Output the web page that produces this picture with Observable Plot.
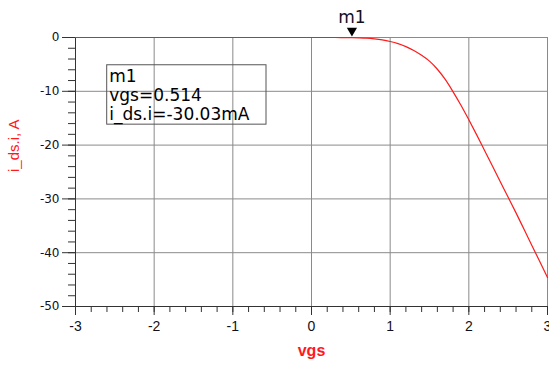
<!DOCTYPE html>
<html>
<head>
<meta charset="utf-8">
<script src="https://cdn.jsdelivr.net/npm/d3@7"></script>
<script src="https://cdn.jsdelivr.net/npm/@observablehq/plot@0.6"></script>
<style>
  html, body { margin: 0; padding: 0; background: #fff; }
</style>
</head>
<body>
<div id="chart"></div>
<script>
// Drain current sweep: i_ds.i (A) versus gate-source voltage vgs (V)
const vgs = [-3, -2, -1, 0, 0.3, 0.514, 0.6, 0.7, 0.8, 0.9, 1.0, 1.1, 1.2, 1.3, 1.4, 1.5,
             1.6, 1.7, 1.8, 1.9, 2.0, 2.1, 2.2, 2.3, 2.4, 2.5, 2.6, 2.7, 2.8, 2.9, 3.0];
const ids = [0, 0, 0, 0, -0.003, -0.03003, -0.06, -0.12, -0.25, -0.45, -0.75, -1.15, -1.7, -2.4, -3.3, -4.4,
             -5.9, -7.8, -10.1, -12.6, -15.3, -18.1, -21.0, -23.9, -26.8, -29.7, -32.6, -35.6, -38.6, -41.6, -44.6];

// Marker m1 readout
const markerName = "m1";
const markerVgs = 0.514;
const markerIds = -0.03003;

// Axis ticks
const xMajor = [-3, -2, -1, 0, 1, 2, 3];
const xMinor = d3.range(-3, 3.0001, 0.2).map(v => +v.toFixed(1));
const yMajor = [0, -10, -20, -30, -40, -50];
const yMinor = d3.range(0, -50.0001, -2);

const curve = vgs.map((v, i) => ({vgs: v, ids: ids[i]}));
const marker = [{vgs: markerVgs, ids: markerIds}];
const readout = `${markerName}\nvgs=${markerVgs}\ni_ds.i=${(markerIds * 1000).toFixed(2)}mA`;

const gridColor = "#8a8a8a";
const axisColor = "#333";
const textColor = "#101020";

const chart = Plot.plot({
  width: 549,
  height: 366,
  marginLeft: 75,
  marginRight: 2,
  marginTop: 37,
  marginBottom: 60,
  style: {fontFamily: "DejaVu Sans, sans-serif", background: "#fff", overflow: "visible"},
  x: {domain: [-3, 3]},
  y: {domain: [-50, 0]},
  marks: [
    Plot.gridX(xMajor, {stroke: gridColor, strokeOpacity: 1}),
    Plot.gridY(yMajor, {stroke: gridColor, strokeOpacity: 1}),
    // readout box
    Plot.rect([{x1: -2.597, x2: -0.572, y1: -5.16, y2: -16.2}], {
      x1: "x1", x2: "x2", y1: "y1", y2: "y2", fill: "none", stroke: "#555", strokeWidth: 1
    }),
    Plot.text([readout], {
      x: -2.597, y: -10.68, text: d => d, textAnchor: "start", lineAnchor: "middle",
      dx: 2, dy: 0, fontSize: 17, lineHeight: 1.1, fill: "#000"
    }),
    // y axis: major and minor ticks
    Plot.axisY(yMinor, {tickSize: 7, text: null, stroke: axisColor, label: null}),
    Plot.axisY(yMajor, {
      tickSize: 13, tickPadding: 3, tickFormat: d => String(d), stroke: axisColor,
      fill: textColor, fontSize: 12, label: null
    }),
    // x axis: major and minor ticks
    Plot.axisX(xMinor, {tickSize: 6, text: null, stroke: axisColor, label: null}),
    Plot.axisX(xMajor, {
      tickSize: 9, tickPadding: 6, tickFormat: d => String(d), stroke: axisColor,
      fill: textColor, fontSize: 14, fontFamily: "Liberation Sans, Arial, sans-serif", label: null
    }),
    Plot.ruleX([-3], {stroke: axisColor}),
    Plot.ruleY([-50], {stroke: axisColor}),
    // drain current
    Plot.line(curve, {x: "vgs", y: "ids", stroke: "#ff1a1a", strokeWidth: 1.2, curve: "monotone-x"}),
    // marker m1
    Plot.dot(marker, {x: "vgs", y: "ids", symbol: "triangle", rotate: 180, r: 3.8, fill: "#000", stroke: "none", dy: -7}),
    Plot.text(marker, {x: "vgs", y: "ids", text: () => markerName, dy: -20, fontSize: 17, fill: textColor}),
    // axis titles
    Plot.text(["vgs"], {
      frameAnchor: "bottom", text: d => d, dy: 49, fontSize: 16, fontWeight: "bold",
      fill: "#ff1a1a", fontFamily: "Liberation Sans, Arial, sans-serif"
    }),
    Plot.text(["i_ds.i, A"], {
      frameAnchor: "left", text: d => d, rotate: -90, dx: -61, fontSize: 15,
      fill: "#ff1a1a", fontFamily: "Liberation Sans, Arial, sans-serif"
    })
  ]
});

document.getElementById("chart").appendChild(chart);
</script>
</body>
</html>
